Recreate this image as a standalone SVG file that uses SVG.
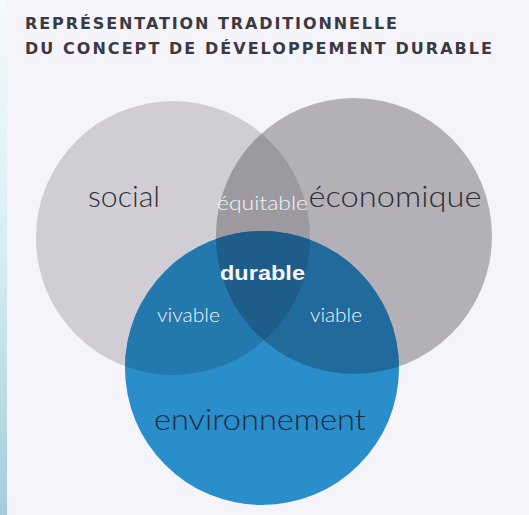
<svg xmlns="http://www.w3.org/2000/svg" width="529" height="515" viewBox="0 0 529 515">
<style>
.title{font-family:"DejaVu Sans","Liberation Sans",Arial,sans-serif;font-weight:700;font-size:16px;fill:#3a3a42}
.lbl{font-family:Lato,"Open Sans","Liberation Sans",sans-serif;font-weight:300}
.big{font-size:29px;fill:#2e2e36}
.small{font-size:20px;fill:#f4f4f8}
.dur{font-family:"Liberation Sans",Arial,sans-serif;font-weight:700;font-size:21px;fill:#f8f8fb}
</style>
<defs>
<linearGradient id="strip" x1="0" y1="0" x2="0" y2="1">
<stop offset="0" stop-color="#f2fbfd"/>
<stop offset="0.5" stop-color="#d6edf2"/>
<stop offset="1" stop-color="#a4cdd9"/>
</linearGradient>
<clipPath id="cS"><circle cx="173" cy="238" r="137"/></clipPath>
<clipPath id="cE"><circle cx="354" cy="236" r="138"/></clipPath>
</defs>
<rect width="529" height="515" fill="#f5f4fa"/>
<rect width="7" height="515" fill="url(#strip)"/>

<g id="title">
<text class="title" x="25" y="29" textLength="372" lengthAdjust="spacing">REPRÉSENTATION TRADITIONNELLE</text>
<text class="title" x="25" y="54" textLength="467" lengthAdjust="spacing">DU CONCEPT DE DÉVELOPPEMENT DURABLE</text>
</g>

<g id="social">
<circle cx="173" cy="238" r="137" fill="#d0ced4"/>
</g>
<g id="economique">
<circle cx="354" cy="236" r="138" fill="#b3b1b7"/>
<circle cx="354" cy="236" r="138" fill="#9c9aa0" clip-path="url(#cS)"/>
</g>
<g id="environnement">
<circle cx="262" cy="368" r="137" fill="#2a8ecb"/>
<circle cx="262" cy="368" r="137" fill="#2378ae" clip-path="url(#cS)"/>
<circle cx="262" cy="368" r="137" fill="#216b9c" clip-path="url(#cE)"/>
<g clip-path="url(#cS)"><circle cx="262" cy="368" r="137" fill="#1e5d8a" clip-path="url(#cE)"/></g>
</g>

<g id="labels">
<text class="lbl big" x="124" y="207" text-anchor="middle" textLength="72" lengthAdjust="spacingAndGlyphs">social</text>
<text class="lbl big" x="395" y="207" text-anchor="middle" textLength="173" lengthAdjust="spacingAndGlyphs">économique</text>
<text class="lbl small" x="262.5" y="210" text-anchor="middle" textLength="91" lengthAdjust="spacingAndGlyphs">équitable</text>
<text class="dur" x="262.5" y="280" text-anchor="middle" textLength="85" lengthAdjust="spacingAndGlyphs">durable</text>
<text class="lbl small" x="188.5" y="322" text-anchor="middle" textLength="63" lengthAdjust="spacingAndGlyphs">vivable</text>
<text class="lbl small" x="336" y="322" text-anchor="middle" textLength="52" lengthAdjust="spacingAndGlyphs">viable</text>
<text class="lbl big" x="260" y="430" text-anchor="middle" textLength="212" lengthAdjust="spacingAndGlyphs" style="fill:#1b2b42">environnement</text>
</g>
</svg>
